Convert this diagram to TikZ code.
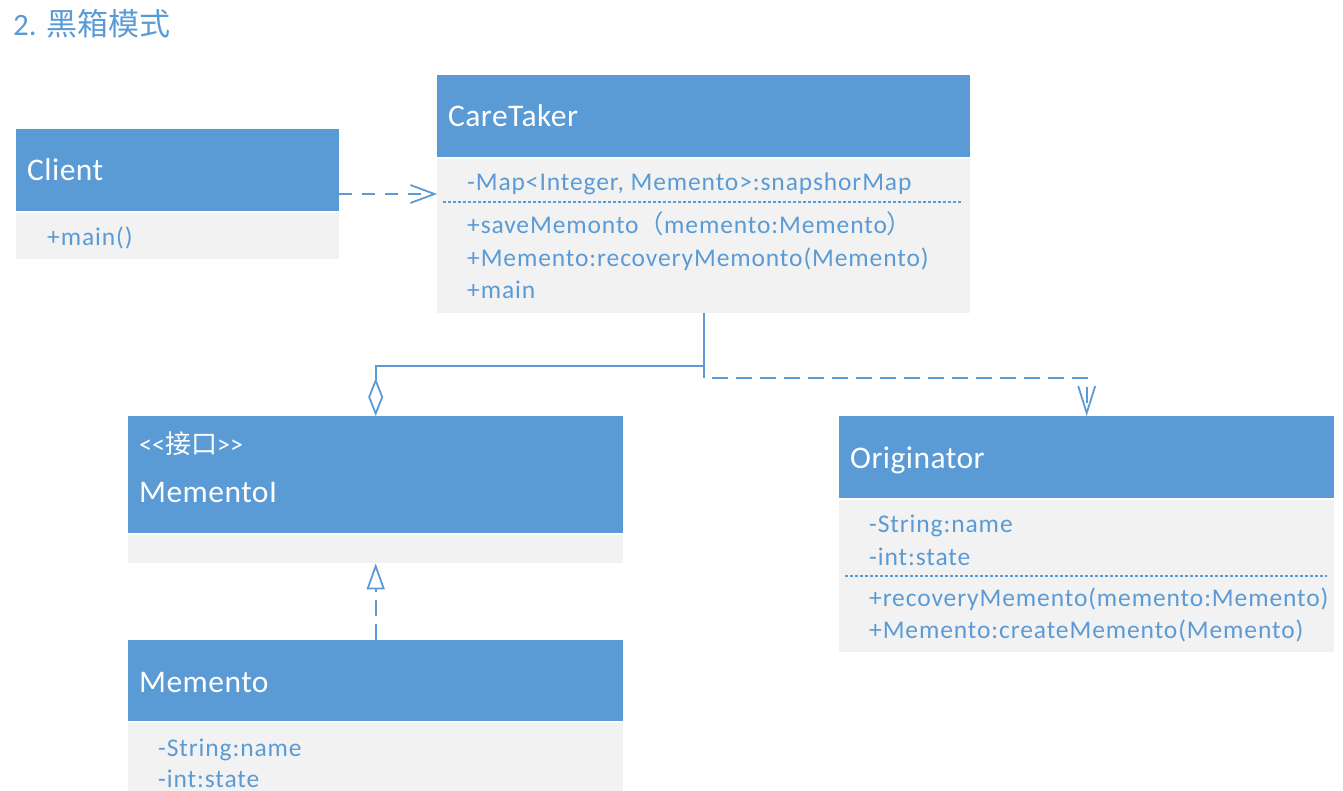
\documentclass[tikz,border=0pt]{standalone}
\usepackage{fontspec}
\setmainfont{Carlito}
\newfontfamily\cjk{Noto Sans CJK SC}
\newfontfamily\bodyfont{Carlito}[LetterSpace=3.5]
\newfontfamily\headfont{Carlito}[LetterSpace=1.5]
\usetikzlibrary{arrows.meta}
\definecolor{ublue}{HTML}{5B9BD5}
\definecolor{ugray}{HTML}{F2F2F2}
\begin{document}
\begin{tikzpicture}[x=1pt,y=-1pt,
  hdr/.style={fill=ublue, draw=none, anchor=north west, inner sep=0pt},
  bdy/.style={fill=ugray, draw=none, anchor=north west, inner sep=0pt},
  htext/.style={anchor=base west, inner sep=0pt, text=white, font=\headfont\fontsize{31.5}{36}\selectfont},
  btext/.style={anchor=base west, inner sep=0pt, text=ublue, font=\bodyfont\fontsize{25.5}{30}\selectfont},
  sepline/.style={draw=ublue, line width=1.4pt, dash pattern=on 3pt off 2pt},
  conn/.style={draw=ublue, line width=1.8pt},
  dep/.style={conn, dash pattern=on 16pt off 8pt},
]
\useasboundingbox (0,0) rectangle (1343,791);

% title
\node[anchor=base west, inner sep=0pt, text=ublue, font=\fontsize{31}{36}\selectfont] (title) at (13,36) {2. {\cjk 黑箱模式}};

% Client
\node[hdr, minimum width=323pt, minimum height=82pt] (clienth) at (16,129) {};
\node[bdy, minimum width=323pt, minimum height=46pt] (clientb) at (16,213) {};
\node[htext] (clientt) at (27,181) {Client};
\node[btext] (client1) at (47,246) {+main()};

% CareTaker
\node[hdr, minimum width=533pt, minimum height=82pt] (careh) at (437,75) {};
\node[bdy, minimum width=533pt, minimum height=154pt] (careb) at (437,159) {};
\node[htext] (caret) at (448,127) {CareTaker};
\node[btext] (care1) at (467,191) {-Map<Integer, Memento>:snapshorMap};
\coordinate (cs1) at (443,202);
\coordinate (cs2) at (963,202);
\draw[sepline] (cs1) -- (cs2);
\node[btext] (care2) at (467,234) {+saveMemonto{\cjk （}memento:Memento{\cjk ）}};
\node[btext] (care3) at (467,267) {+Memento:recoveryMemonto(Memento)};
\node[btext] (care4) at (467,299) {+main};

% MementoI
\node[hdr, minimum width=495pt, minimum height=117pt] (mih) at (128,416) {};
\node[bdy, minimum width=495pt, minimum height=28pt] (mib) at (128,535) {};
\node[anchor=base west, inner sep=0pt, text=white, font=\fontsize{26}{30}\selectfont] (mis) at (139,453) {<{}<{\cjk 接口}>{}>};
\node[htext] (mit) at (139,502) {MementoI};

% Memento
\node[hdr, minimum width=495pt, minimum height=81pt] (meh) at (128,640) {};
\node[bdy, minimum width=495pt, minimum height=70pt] (meb) at (128,723) {};
\node[htext] (met) at (139,692) {Memento};
\node[btext] (me1) at (158,756) {-String:name};
\node[btext] (me2) at (158,787) {-int:state};

% Originator
\node[hdr, minimum width=495pt, minimum height=82pt] (orh) at (839,416) {};
\node[bdy, minimum width=495pt, minimum height=152pt] (orb) at (839,500) {};
\node[htext] (ort) at (850,468) {Originator};
\node[btext] (or1) at (869,532) {-String:name};
\node[btext] (or2) at (869,565) {-int:state};
\coordinate (os1) at (845,576);
\coordinate (os2) at (1327,576);
\draw[sepline] (os1) -- (os2);
\node[btext] (or3) at (869,606) {+recoveryMemento(memento:Memento)};
\node[btext] (or4) at (869,638) {+Memento:createMemento(Memento)};

% connectors
\coordinate (ca) at (339,194);
\draw[conn, dash pattern=on 13pt off 10pt, -{Straight Barb[length=24pt,width=18pt]}] (ca) -- (careb.west |- ca);

\coordinate (ly1) at (0,366);
\coordinate (ly2) at (0,378);
\draw[conn] (careb.south) -- (careb.south |- ly2);
\draw[conn, -{Diamond[open,length=38pt,width=15pt]}] (careb.south |- ly1) -| (mih.north);
\coordinate (dstart) at (712,378);
\draw[dep, -{Straight Barb[length=27pt,width=17pt]}] (dstart) -| (orh.north);

\draw[dep, -{Triangle[open,length=26pt,width=18pt]}] (meh.north) -- (mib.south);
\end{tikzpicture}
\end{document}
